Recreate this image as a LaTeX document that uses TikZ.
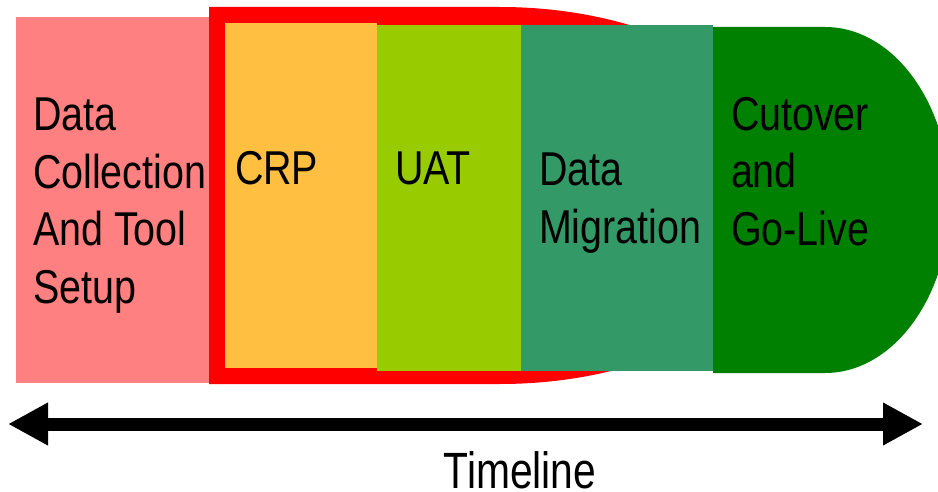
\documentclass[tikz,border=0pt]{standalone}
\usepackage{fontspec}
\setmainfont[FakeStretch=0.8]{Liberation Sans}
\newfontfamily\lblfont[FakeStretch=0.83]{Liberation Sans}
\usetikzlibrary{arrows.meta}
\definecolor{cpink}{HTML}{FF8080}
\definecolor{cred}{HTML}{FF0000}
\definecolor{corange}{HTML}{FFBF40}
\definecolor{cuat}{HTML}{99CC00}
\definecolor{cteal}{HTML}{339966}
\definecolor{cgreen}{HTML}{008000}
\tikzset{
  lbl/.style={anchor=north west, inner sep=0pt, outer sep=0pt, align=left, text=black,
    font=\lblfont\fontsize{47.5}{57.5}\selectfont},
  tl/.style={line width=13pt, {Triangle[length=40pt,width=40pt]}-{Triangle[length=40pt,width=40pt]}}
}
\begin{document}
\begin{tikzpicture}[x=1pt,y=-1pt]
\useasboundingbox (0,0) rectangle (938,492);
\clip (0,0) rectangle (938,492);
% pink box
\fill[cpink] (16,17) rectangle (209,383);
% red highlight shape
\fill[cred] (209,7) -- (500,7) arc[start angle=-90, end angle=90, x radius=303, y radius=188.5] -- (209,384) -- cycle;
% orange
\fill[corange] (225,23) rectangle (377,368);
% uat
\fill[cuat] (377,25) rectangle (521,371);
% teal
\fill[cteal] (521,25) rectangle (713,371);
% green rounded end
\fill[cgreen] (713,27) -- (825,27) arc[start angle=-90, end angle=90, x radius=125, y radius=173] -- (713,373) -- cycle;
% labels
\node[lbl] (dc) at (33,98) {Data\\Collection\\And Tool\\Setup};
\node[lbl] (crp) at (235,151) {CRP};
\node[lbl] (uat) at (395,152) {UAT};
\node[lbl] (dm) at (539,153) {Data\\Migration};
\node[lbl] (cg) at (731,97) {Cutover\\and\\Go-Live};
% timeline
\coordinate (aL) at (8,424);
\coordinate (aR) at (923,424);
\draw[tl] (aL) -- (aR);
\node[anchor=north, inner sep=0pt, font=\fontsize{51}{60}\selectfont] (tlab) at (520,451) {Timeline};
\end{tikzpicture}
\end{document}
